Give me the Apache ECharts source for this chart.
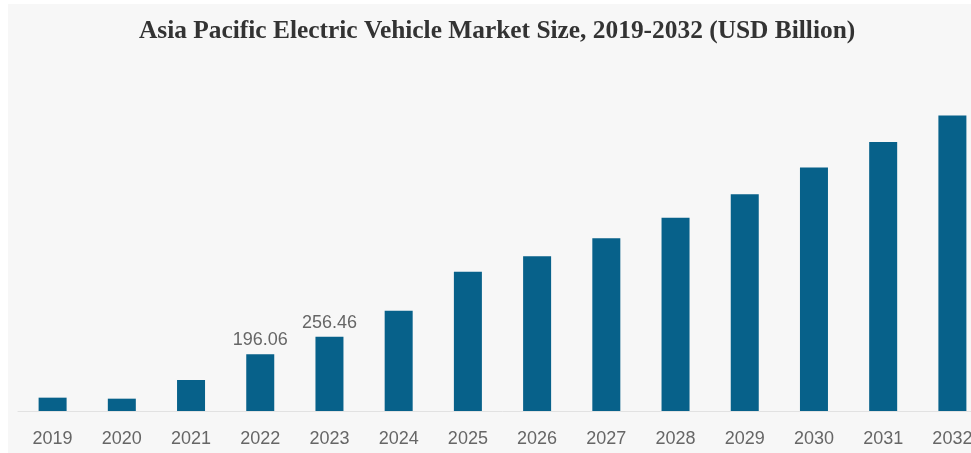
<!DOCTYPE html>
<html>
<head>
<meta charset="utf-8">
<script src="https://cdn.jsdelivr.net/npm/echarts@6/dist/echarts.min.js"></script>
<style>
  html, body { margin: 0; padding: 0; background: #ffffff; overflow: hidden; }
  /* canvas is a little wider than the page so the last bar meets the edge */
  #chart { width: 990px; height: 453px; }
</style>
</head>
<body>
<div id="chart"></div>
<script>
// Market size by year, USD billion
const years = ['2019', '2020', '2021', '2022', '2023', '2024', '2025',
               '2026', '2027', '2028', '2029', '2030', '2031', '2032'];
const marketSize = [46, 42.5, 107, 196.06, 256.46, 346, 480,
                    534, 596, 666, 747, 840, 928, 1019];
// Only these years carry a printed value
const labelledYears = ['2022', '2023'];

const chart = echarts.init(document.getElementById('chart'), null, { renderer: 'canvas' });

chart.setOption({
  backgroundColor: '#ffffff',
  animation: false,
  graphic: [{
    type: 'rect',
    z: -10,
    silent: true,
    shape: { x: 8, y: 4, width: 990, height: 460 },
    style: { fill: '#f7f7f7' }
  }],
  title: {
    text: 'Asia Pacific Electric Vehicle Market Size, 2019-2032 (USD Billion)',
    left: 134,
    top: 14,
    textStyle: {
      fontFamily: 'Liberation Serif',
      fontWeight: 'bold',
      fontSize: 25.4,
      color: '#333333'
    }
  },
  grid: { left: 18, right: 3, top: 92, bottom: 42, containLabel: false },
  xAxis: {
    type: 'category',
    data: years,
    axisLine: { show: true, lineStyle: { color: '#e2e2e2', width: 1 } },
    axisTick: { show: false },
    axisLabel: {
      color: '#666666',
      fontFamily: 'Liberation Sans',
      fontSize: 18,
      margin: 19
    }
  },
  yAxis: {
    type: 'value',
    min: 0,
    max: 1100,
    show: false,
    splitLine: { show: false }
  },
  series: [{
    type: 'bar',
    data: marketSize.map((v, i) => ({
      value: v,
      label: { show: labelledYears.includes(years[i]) }
    })),
    barWidth: 28,
    itemStyle: { color: '#07618a' },
    label: {
      position: 'top',
      distance: 5,
      color: '#666666',
      fontFamily: 'Liberation Sans',
      fontSize: 18,
      formatter: p => p.value.toFixed(2)
    }
  }]
});
</script>
</body>
</html>
